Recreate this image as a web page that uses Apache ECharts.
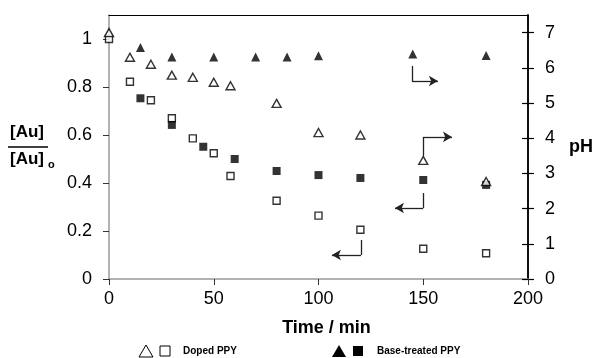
<!DOCTYPE html>
<html>
<head>
<meta charset="utf-8">
<script src="https://cdn.jsdelivr.net/npm/echarts@6/dist/echarts.min.js"></script>
<style>
  html, body { margin: 0; padding: 0; background: #fff; }
  #chart { width: 595px; height: 358px; }
</style>
</head>
<body>
<div id="chart"></div>
<script>
// [Au]/[Au]o  (left axis)
const dopedAu = [[0, 1.0], [10, 0.822], [20, 0.745], [30, 0.67], [40, 0.586], [50, 0.524], [58, 0.429], [80, 0.326], [100, 0.264], [120, 0.205], [150, 0.126], [180, 0.107]];
const baseAu = [[15, 0.753], [30, 0.642], [45, 0.551], [60, 0.5], [80, 0.45], [100, 0.433], [120, 0.421], [150, 0.4125], [180, 0.392]];
// pH (right axis)
const dopedPH = [[0, 7.0], [10, 6.3], [20, 6.1], [30, 5.79], [40, 5.73], [50, 5.59], [58, 5.49], [80, 4.99], [100, 4.16], [120, 4.09], [150, 3.37], [180, 2.77]];
const basePH = [[15, 6.58], [30, 6.31], [50, 6.31], [70, 6.31], [85, 6.31], [100, 6.34], [145, 6.39], [180, 6.35]];

const xTicks = [0, 50, 100, 150, 200];
const leftTicks = [0, 0.2, 0.4, 0.6, 0.8, 1];
const rightTicks = [0, 1, 2, 3, 4, 5, 6, 7];

// L-shaped pointers, in data units of the left axis: [start, corner, end]
const arrows = [
  [[144.6, 0.8875], [144.6, 0.825], [157, 0.825]],
  [[150, 0.5125], [150, 0.592], [163.7, 0.592]],
  [[150, 0.358], [150, 0.296], [136.5, 0.296]],
  [[120.3, 0.1625], [120.3, 0.1], [106.4, 0.1]]
];

const FONT = 'Liberation Sans';
const chart = echarts.init(document.getElementById('chart'));

const arrowLines = [];
arrows.forEach(a => {
  arrowLines.push([{ coord: a[0], symbol: 'none' }, { coord: a[1], symbol: 'none' }]);
  arrowLines.push([{ coord: a[1], symbol: 'none' }, { coord: a[2], symbol: 'arrow' }]);
});

const openStyle = { color: '#fff', borderColor: '#000', borderWidth: 1.4 };
const fillStyle = { color: '#000' };

chart.setOption({
  animation: false,
  backgroundColor: '#fff',
  textStyle: { fontFamily: FONT },
  grid: { left: 109, right: 67, top: 15, bottom: 79, containLabel: false, outerBoundsMode: 'none' },
  xAxis: [{
    type: 'value', min: 0, max: 200, interval: 50,
    name: 'Time / min', nameLocation: 'middle', nameGap: 40,
    nameTextStyle: { fontSize: 18, fontWeight: 'bold', color: '#000', fontFamily: FONT, padding: [0, 0, 0, 16] },
    axisLine: { lineStyle: { color: '#999', width: 1.5 } },
    axisTick: { length: 6, customValues: xTicks, lineStyle: { color: '#333' } },
    axisLabel: { fontSize: 18, color: '#000', margin: 11, customValues: xTicks },
    splitLine: { show: false }
  }, {
    type: 'value', min: 0, max: 200, position: 'top',
    axisLine: { show: true, onZero: false, lineStyle: { color: '#000', width: 1.2 } },
    axisTick: { show: false }, axisLabel: { show: false }, splitLine: { show: false }
  }],
  yAxis: [{
    type: 'value', min: 0, max: 1.1, position: 'left',
    axisLine: { show: true, onZero: false, lineStyle: { color: '#999', width: 1.5 } },
    axisTick: { show: true, length: 6, customValues: leftTicks, lineStyle: { color: '#333' } },
    axisLabel: { fontSize: 18, color: '#000', margin: 17, customValues: leftTicks },
    splitLine: { show: false }
  }, {
    type: 'value', min: 0, max: 7.5, position: 'right',
    name: 'pH', nameLocation: 'middle', nameRotate: 0, nameGap: 41,
    nameTextStyle: { fontSize: 18, fontWeight: 'bold', color: '#000', fontFamily: FONT },
    axisLine: { show: true, onZero: false, lineStyle: { color: '#000', width: 1.5 } },
    axisTick: { show: true, length: 6, customValues: rightTicks, lineStyle: { color: '#000', width: 1.2 } },
    axisLabel: { fontSize: 18, color: '#000', margin: 17, customValues: rightTicks },
    splitLine: { show: false }
  }, {
    type: 'value', min: 0, max: 7.5, position: 'right', offset: 0,
    axisLine: { show: true, onZero: false, lineStyle: { color: '#000', width: 1.5 } },
    axisTick: { show: true, inside: true, length: 6, customValues: rightTicks, lineStyle: { color: '#000', width: 1.2 } },
    axisLabel: { show: false },
    splitLine: { show: false }
  }],
  series: [
    { name: 'Doped [Au]', type: 'scatter', yAxisIndex: 0, data: dopedAu, symbol: 'rect', symbolSize: 7, itemStyle: openStyle },
    { name: 'Base [Au]', type: 'scatter', yAxisIndex: 0, data: baseAu, symbol: 'rect', symbolSize: 8, itemStyle: fillStyle },
    { name: 'Doped pH', type: 'scatter', yAxisIndex: 1, data: dopedPH, symbol: 'triangle', symbolSize: [9, 8], itemStyle: openStyle },
    { name: 'Base pH', type: 'scatter', yAxisIndex: 1, data: basePH, symbol: 'triangle', symbolSize: [9, 9], itemStyle: fillStyle },
    {
      name: 'pointers', type: 'scatter', yAxisIndex: 0, data: [],
      markLine: {
        silent: true, symbolSize: [8, 9],
        label: { show: false },
        lineStyle: { color: '#222', width: 1.3, type: 'solid' },
        data: arrowLines
      }
    }
  ],
  graphic: [
    // left axis name as fraction [Au] / [Au]o
    { type: 'text', left: 10, top: 124, style: { text: '[Au]', font: 'bold 17px "Liberation Sans"', fill: '#000' } },
    { type: 'line', shape: { x1: 8, y1: 147, x2: 48, y2: 147 }, style: { stroke: '#000', lineWidth: 1.5 } },
    { type: 'text', left: 10, top: 151, style: { text: '[Au]', font: 'bold 17px "Liberation Sans"', fill: '#000' } },
    { type: 'text', left: 48, top: 159, style: { text: 'o', font: 'bold 11px "Liberation Sans"', fill: '#000' } },
    // legend
    { type: 'polygon', shape: { points: [[139, 357], [146, 345], [153, 357]] }, style: { fill: '#fff', stroke: '#000', lineWidth: 1 } },
    { type: 'rect', shape: { x: 160, y: 346, width: 10, height: 10 }, style: { fill: '#fff', stroke: '#000', lineWidth: 1 } },
    { type: 'text', left: 183, top: 346, style: { text: 'Doped PPY', font: 'bold 10px "Liberation Sans"', fill: '#000' } },
    { type: 'polygon', shape: { points: [[332, 357], [339, 345], [346, 357]] }, style: { fill: '#000' } },
    { type: 'rect', shape: { x: 353, y: 346, width: 10, height: 10 }, style: { fill: '#000' } },
    { type: 'text', left: 377, top: 346, style: { text: 'Base-treated PPY', font: 'bold 10px "Liberation Sans"', fill: '#000' } }
  ]
});
</script>
</body>
</html>
